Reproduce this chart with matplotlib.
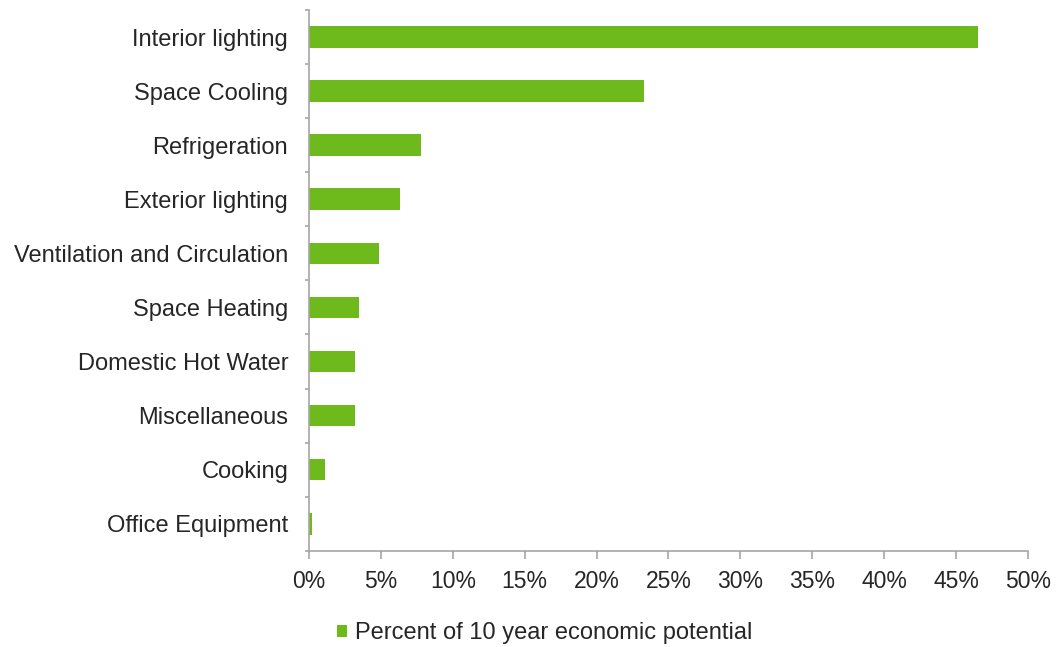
import matplotlib
matplotlib.use("Agg")
import matplotlib.pyplot as plt
from matplotlib.ticker import FixedLocator, FuncFormatter

categories = [
    "Interior lighting",
    "Space Cooling",
    "Refrigeration",
    "Exterior lighting",
    "Ventilation and Circulation",
    "Space Heating",
    "Domestic Hot Water",
    "Miscellaneous",
    "Cooking",
    "Office Equipment",
]
values = [46.5, 23.3, 7.8, 6.3, 4.9, 3.5, 3.2, 3.2, 1.1, 0.2]
x_ticks = [0, 5, 10, 15, 20, 25, 30, 35, 40, 45, 50]
series_name = "Percent of 10 year economic potential"

plt.rcParams["font.family"] = ["Liberation Sans", "DejaVu Sans"]
green = "#6eb91b"
axis_gray = "#a6a6a6"
text_col = "#262626"

fig = plt.figure(figsize=(10.57, 6.47), dpi=100)
ax = fig.add_axes([0.2923, 0.1488, 0.6803, 0.8357])

n = len(categories)
pos = list(range(n))
ax.barh(pos, values, height=0.4, color=green, label=series_name)
ax.set_ylim(n - 0.5, -0.5)
ax.set_xlim(0, 50)

ax.set_yticks(pos)
ax.set_yticklabels(categories)
ax.yaxis.set_minor_locator(FixedLocator([i - 0.5 for i in range(n + 1)]))
ax.tick_params(axis="y", which="major", length=0, pad=15, labelsize=17, labelcolor=text_col)
ax.tick_params(axis="y", which="minor", length=3, color=axis_gray, width=1.2)

ax.set_xticks(x_ticks)
ax.xaxis.set_major_formatter(FuncFormatter(lambda v, p: f"{v:.0f}%"))
ax.tick_params(axis="x", length=6, color=axis_gray, width=1.2, pad=8, labelsize=16.5, labelcolor=text_col)

for s in ("top", "right"):
    ax.spines[s].set_visible(False)
for s in ("left", "bottom"):
    ax.spines[s].set_color(axis_gray)
    ax.spines[s].set_linewidth(1.2)

leg = fig.legend(loc="center", bbox_to_anchor=(0.515, 0.021), frameon=False,
                 fontsize=17, handlelength=0.45, handleheight=0.35, handletextpad=0.3)
for t in leg.get_texts():
    t.set_color(text_col)

fig.savefig("out.png", dpi=100, facecolor="white")
